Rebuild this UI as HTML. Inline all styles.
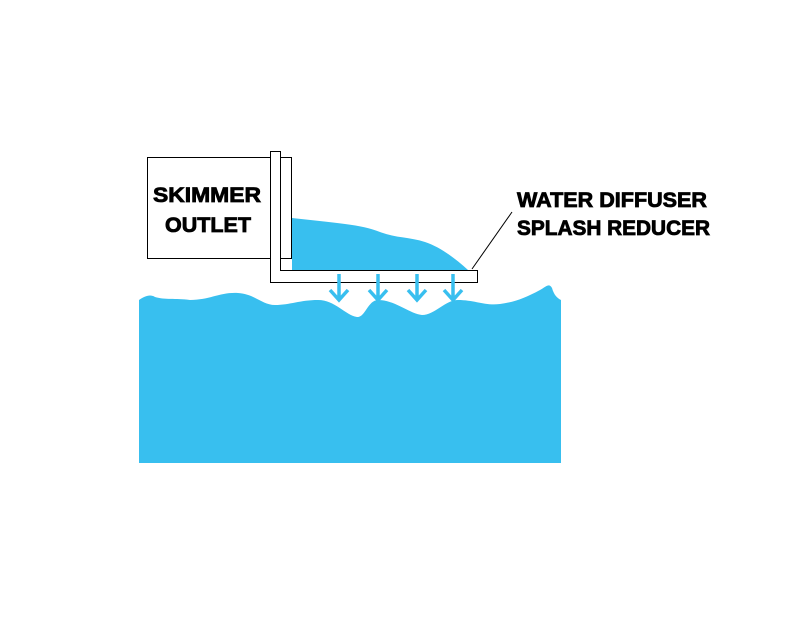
<!DOCTYPE html>
<html><head><style>html,body{margin:0;padding:0;background:#fff}</style></head>
<body>
<svg width="792" height="612" viewBox="0 0 792 612" xmlns="http://www.w3.org/2000/svg">
<rect x="0" y="0" width="792" height="612" fill="#fff"/>
<path d="M139,300 C145,296 150,294 155,297 C165,300 175,298 190,300 C210,300 220,292 238,293 C255,294 262,305 275,305 C290,305 300,300 318,300 C335,300 345,315 357,317 C365,318 368,300 378,300 C395,300 410,314 422,315 C435,315 445,300 458,300 C475,300 485,306 500,304 C515,302 525,298 540,290 C547,286 549,283 552,288 C554,295 557,298 561,300 L561,463 L139,463 Z" fill="#38BFEF"/>
<path d="M292,218 C310,220 330,222 345,224 C360,226 370,228 380,232 C395,238 410,237 425,242 C440,247 455,258 468,270 L292,270 Z" fill="#38BFEF"/>
<rect x="147.5" y="157.5" width="144" height="101" fill="#fff" stroke="#000" stroke-width="1"/>
<path d="M270.5,151.5 L280.5,151.5 L280.5,270.5 L477.5,270.5 L477.5,282.5 L270.5,282.5 Z" fill="#fff" stroke="#000" stroke-width="1"/>
<line x1="280.5" y1="157.5" x2="291.5" y2="157.5" stroke="#000"/>
<line x1="472" y1="269" x2="512" y2="212" stroke="#000" stroke-width="1"/>
<g stroke="#38BFEF" stroke-width="3.5" fill="none">
<path d="M339,274 V299 M330,290 L339,300 L348,290"/>
<path d="M378,274 V299 M369,290 L378,300 L387,290"/>
<path d="M417,274 V299 M408,290 L417,300 L426,290"/>
<path d="M453,274 V299 M444,290 L453,300 L462,290"/>
</g>
<g font-family="Liberation Sans, sans-serif" font-weight="bold" font-size="21" fill="#000" stroke="#000" stroke-width="0.8">
<text x="153" y="202" textLength="108" lengthAdjust="spacingAndGlyphs">SKIMMER</text>
<text x="165" y="232" textLength="86" lengthAdjust="spacingAndGlyphs">OUTLET</text>
<text x="517" y="207" textLength="190" lengthAdjust="spacingAndGlyphs">WATER DIFFUSER</text>
<text x="517" y="235" textLength="193" lengthAdjust="spacingAndGlyphs">SPLASH REDUCER</text>
</g>
</svg>
</body></html>
